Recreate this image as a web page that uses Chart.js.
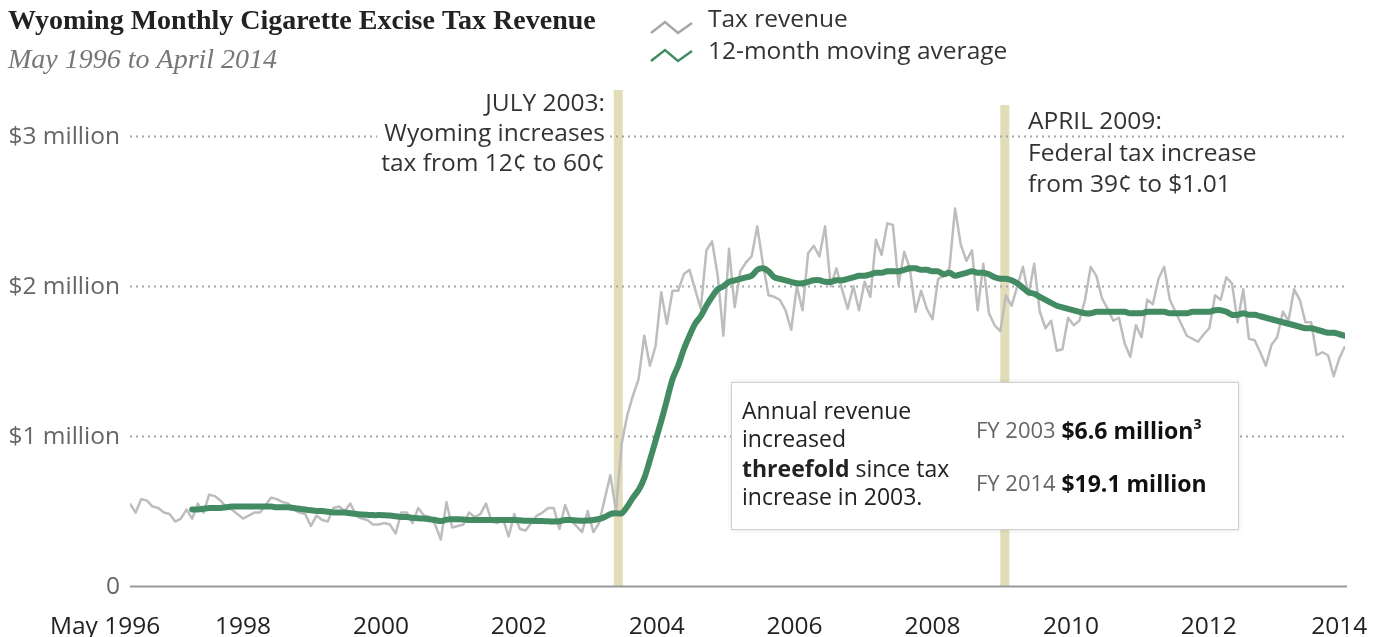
<!DOCTYPE html>
<html>
<head>
<meta charset="utf-8">
<script src="https://cdn.jsdelivr.net/npm/chart.js@4.4.1/dist/chart.umd.min.js"></script>
<style>
  html, body { margin: 0; padding: 0; background: #fff; }
  #wrap { width: 1386px; height: 637px; }
</style>
</head>
<body>
<div id="wrap"><canvas id="chart" width="1386" height="637"></canvas></div>
<script>
// monthly tax revenue in $ millions, May 1996 (index 0) to April 2014 (index 215)
const revenue = [
  0.55, 0.49, 0.58, 0.57, 0.53, 0.52, 0.49, 0.48, 0.43, 0.45, 0.51, 0.45,
  0.55, 0.49, 0.61, 0.60, 0.57, 0.53, 0.51, 0.48, 0.45, 0.47, 0.49, 0.49,
  0.54, 0.59, 0.58, 0.56, 0.55, 0.51, 0.49, 0.48, 0.40, 0.47, 0.44, 0.43,
  0.52, 0.53, 0.50, 0.55, 0.47, 0.45, 0.44, 0.41, 0.41, 0.42, 0.41, 0.35,
  0.49, 0.49, 0.42, 0.52, 0.47, 0.46, 0.41, 0.31, 0.56, 0.39, 0.40, 0.41,
  0.49, 0.46, 0.48, 0.55, 0.43, 0.42, 0.45, 0.33, 0.48, 0.38, 0.37, 0.42,
  0.47, 0.49, 0.52, 0.52, 0.38, 0.54, 0.44, 0.40, 0.36, 0.50, 0.36, 0.42,
  0.58, 0.74, 0.50, 0.95, 1.14, 1.27, 1.38, 1.67, 1.47, 1.60, 1.96, 1.75,
  1.97, 1.97, 2.08, 2.11, 1.98, 1.85, 2.24, 2.30, 2.07, 1.67, 2.25, 1.86,
  2.10, 2.16, 2.20, 2.40, 2.15, 1.94, 1.93, 1.91, 1.84, 1.71, 2.00, 1.84,
  2.22, 2.27, 2.20, 2.40, 2.00, 2.12, 1.98, 1.85, 2.00, 1.84, 2.03, 1.93,
  2.31, 2.21, 2.42, 2.41, 2.01, 2.23, 2.12, 1.83, 1.97, 1.85, 1.78, 2.05,
  2.07, 2.12, 2.52, 2.28, 2.17, 2.24, 1.84, 2.15, 1.82, 1.74, 1.70, 1.94,
  1.87, 2.00, 2.13, 1.94, 2.15, 1.83, 1.72, 1.77, 1.57, 1.58, 1.79, 1.74,
  1.77, 1.91, 2.13, 2.07, 1.92, 1.85, 1.77, 1.79, 1.62, 1.53, 1.74, 1.66,
  1.91, 1.88, 2.05, 2.13, 1.91, 1.83, 1.75, 1.67, 1.65, 1.63, 1.68, 1.72,
  1.94, 1.91, 2.06, 2.02, 1.76, 1.98, 1.65, 1.64, 1.56, 1.47, 1.61, 1.66,
  1.83, 1.77, 1.98, 1.91, 1.76, 1.76, 1.54, 1.56, 1.54, 1.40, 1.52, 1.60
];

// 12-month moving average (starts April 1997)
const movingAvg = [
  null, null, null, null, null, null, null, null, null, null, null, 0.51,
  0.51, 0.515, 0.52, 0.52, 0.52, 0.525, 0.53, 0.53, 0.53, 0.53, 0.53, 0.53,
  0.53, 0.53, 0.525, 0.525, 0.525, 0.52, 0.515, 0.51, 0.505, 0.50, 0.50, 0.495,
  0.49, 0.49, 0.49, 0.485, 0.48, 0.477, 0.475, 0.473, 0.473, 0.472, 0.47, 0.465,
  0.46, 0.46, 0.455, 0.452, 0.45, 0.445, 0.44, 0.433, 0.443, 0.445, 0.445, 0.443,
  0.44, 0.44, 0.44, 0.44, 0.44, 0.44, 0.44, 0.44, 0.44, 0.438, 0.436, 0.435,
  0.434, 0.433, 0.432, 0.43, 0.432, 0.44, 0.44, 0.437, 0.435, 0.437, 0.44, 0.447,
  0.46, 0.48, 0.485, 0.485, 0.53, 0.59, 0.64, 0.72, 0.84, 0.97, 1.10, 1.24,
  1.38, 1.47, 1.58, 1.67, 1.75, 1.80, 1.87, 1.93, 1.98, 2.00, 2.03, 2.04,
  2.05, 2.06, 2.07, 2.11, 2.12, 2.10, 2.06, 2.05, 2.04, 2.03, 2.02, 2.02,
  2.03, 2.04, 2.04, 2.03, 2.03, 2.04, 2.04, 2.05, 2.06, 2.07, 2.07, 2.08,
  2.09, 2.09, 2.10, 2.10, 2.10, 2.11, 2.12, 2.12, 2.11, 2.11, 2.10, 2.10,
  2.08, 2.09, 2.07, 2.08, 2.09, 2.10, 2.09, 2.09, 2.08, 2.06, 2.05, 2.05,
  2.04, 2.02, 1.99, 1.96, 1.95, 1.93, 1.91, 1.89, 1.87, 1.86, 1.85, 1.84,
  1.83, 1.82, 1.82, 1.83, 1.83, 1.83, 1.83, 1.83, 1.83, 1.82, 1.82, 1.82,
  1.83, 1.83, 1.83, 1.83, 1.82, 1.82, 1.82, 1.82, 1.83, 1.83, 1.83, 1.83,
  1.84, 1.84, 1.83, 1.81, 1.81, 1.82, 1.81, 1.81, 1.80, 1.79, 1.78, 1.77,
  1.76, 1.75, 1.74, 1.73, 1.72, 1.72, 1.71, 1.70, 1.69, 1.69, 1.68, 1.67
];

const yTicks = [0, 1, 2, 3];
const yTickLabels = ['0', '$1 million', '$2 million', '$3 million'];
const xTickLabels = ['May 1996', '1998', '2000', '2002', '2004', '2006', '2008', '2010', '2012', '2014'];
// where the labels sit on the month axis in the original
const xTickMonths = [-4.4, 20, 44.4, 68.8, 93.2, 117.6, 142, 166.5, 190.9, 214];
const eventMonths = [86.4, 154.8];
const eventTops = [3.31, 3.21];

const SANS = '"Open Sans", sans-serif';
const SERIF = '"Liberation Serif", "Times New Roman", serif';

const decor = {
  id: 'decor',
  beforeDatasetsDraw(chart) {
    const { ctx, scales: { x, y }, chartArea } = chart;
    ctx.save();
    // event bands
    ctx.fillStyle = '#e3dcb8';
    eventMonths.forEach((m, k) => {
      const px = x.getPixelForValue(m);
      const top = y.getPixelForValue(eventTops[k]);
      ctx.fillRect(px - 4.5, top, 9, y.getPixelForValue(0) - top);
    });
    // grid lines
    yTicks.forEach(v => {
      const py = Math.round(y.getPixelForValue(v)) + 0.5;
      ctx.beginPath();
      if (v === 0) {
        ctx.setLineDash([]);
        ctx.strokeStyle = '#9a9a9a';
        ctx.lineWidth = 2;
      } else {
        ctx.setLineDash([2, 4]);
        ctx.strokeStyle = '#a6a6a6';
        ctx.lineWidth = 2;
      }
      ctx.moveTo(chartArea.left, py);
      ctx.lineTo(chartArea.right + 2, py);
      ctx.stroke();
    });
    ctx.restore();
  },
  afterDatasetsDraw(chart) {
    const { ctx, scales: { x, y } } = chart;
    ctx.save();
    ctx.textBaseline = 'middle';

    // y labels
    ctx.font = '24.5px ' + SANS;
    ctx.fillStyle = '#666';
    ctx.textAlign = 'right';
    yTicks.forEach((v, k) => ctx.fillText(yTickLabels[k], 120, y.getPixelForValue(v) + 1));

    // x labels
    ctx.fillStyle = '#222';
    ctx.textAlign = 'center';
    xTickMonths.forEach((m, k) => ctx.fillText(xTickLabels[k], x.getPixelForValue(m), 627));

    // annotation 1
    const note1 = ['JULY 2003:', 'Wyoming increases', 'tax from 12\u00a2 to 60\u00a2'];
    const note1Y = [104, 134, 164];
    ctx.font = '24.5px ' + SANS;
    let w1 = Math.max(...note1.map(t => ctx.measureText(t).width));
    ctx.fillStyle = '#fff';
    ctx.fillRect(605 - w1 - 4, 119, w1 + 6, 30);
    ctx.fillStyle = '#333';
    ctx.textAlign = 'right';
    note1.forEach((t, k) => ctx.fillText(t, 605, note1Y[k]));

    // annotation 2
    const note2 = ['APRIL 2009:', 'Federal tax increase', 'from 39\u00a2 to $1.01'];
    const note2Y = [122, 154, 185];
    let w2 = Math.max(...note2.map(t => ctx.measureText(t).width));
    ctx.fillStyle = '#fff';
    ctx.fillRect(1012, 105, w2 + 24, 30);
    ctx.fillStyle = '#333';
    ctx.textAlign = 'left';
    note2.forEach((t, k) => ctx.fillText(t, 1028, note2Y[k]));

    // callout box
    ctx.save();
    ctx.shadowColor = 'rgba(0,0,0,0.12)';
    ctx.shadowBlur = 5;
    ctx.fillStyle = '#fff';
    ctx.fillRect(731, 382, 508, 148);
    ctx.restore();
    ctx.strokeStyle = '#cfcfcf';
    ctx.lineWidth = 1;
    ctx.strokeRect(731.5, 382.5, 507, 147);

    const runs = (parts, x0, yy) => {
      let cx = x0;
      parts.forEach(([txt, font, color, dy]) => {
        ctx.font = font;
        ctx.fillStyle = color;
        ctx.fillText(txt, cx, yy + (dy || 0));
        cx += ctx.measureText(txt).width;
      });
    };
    ctx.textAlign = 'left';
    const reg = '23px ' + SANS, bold = 'bold 23px ' + SANS;
    runs([['Annual revenue', reg, '#222']], 742, 412);
    runs([['increased', reg, '#222']], 742, 440);
    runs([['threefold', bold, '#222'], [' since tax', reg, '#222']], 742, 470);
    runs([['increase in 2003.', reg, '#222']], 742, 498);
    runs([['FY 2003 ', '22px ' + SANS, '#666'], ['$6.6 million', bold, '#111'], ['3', 'bold 14px ' + SANS, '#111', -7]], 976, 432);
    runs([['FY 2014 ', '22px ' + SANS, '#666'], ['$19.1 million', bold, '#111']], 976, 485);

    // title + subtitle
    ctx.fillStyle = '#222';
    ctx.font = 'bold 28px ' + SERIF;
    ctx.fillText('Wyoming Monthly Cigarette Excise Tax Revenue', 8, 22);
    ctx.fillStyle = '#777';
    ctx.font = 'italic 28px ' + SERIF;
    ctx.fillText('May 1996 to April 2014', 8, 61);

    // legend
    const icon = (yy, color) => {
      ctx.beginPath();
      ctx.strokeStyle = color;
      ctx.lineWidth = 2.5;
      ctx.lineJoin = 'miter';
      ctx.moveTo(651, yy + 6);
      ctx.lineTo(665, yy - 5);
      ctx.lineTo(678, yy + 6);
      ctx.lineTo(692, yy - 4);
      ctx.stroke();
    };
    icon(27, '#a6a6a6');
    icon(55, '#438b63');
    ctx.font = '24.5px ' + SANS;
    ctx.fillStyle = '#333';
    ctx.fillText('Tax revenue', 708, 20);
    ctx.fillText('12-month moving average', 708, 52);
    ctx.restore();
  }
};

new Chart(document.getElementById('chart'), {
  type: 'line',
  data: {
    datasets: [
      {
        label: '12-month moving average',
        data: movingAvg.map((v, i) => ({ x: i, y: v })),
        borderColor: '#438b63',
        borderWidth: 6,
        borderCapStyle: 'round',
        borderJoinStyle: 'round',
        pointRadius: 0,
        tension: 0.3,
        spanGaps: false,
      },
      {
        label: 'Tax revenue',
        data: revenue.map((v, i) => ({ x: i, y: v })),
        borderColor: '#bdbdbd',
        borderWidth: 2.5,
        borderJoinStyle: 'round',
        pointRadius: 0,
        tension: 0,
      },
    ],
  },
  options: {
    responsive: false,
    animation: false,
    events: [],
    layout: { padding: { left: 130, right: 41, top: 90, bottom: 51 } },
    plugins: { legend: { display: false }, tooltip: { enabled: false } },
    scales: {
      x: { type: 'linear', min: 0, max: 215, display: false },
      y: { min: 0, max: 3.31, display: false },
    },
  },
  plugins: [decor],
});
</script>
</body>
</html>
